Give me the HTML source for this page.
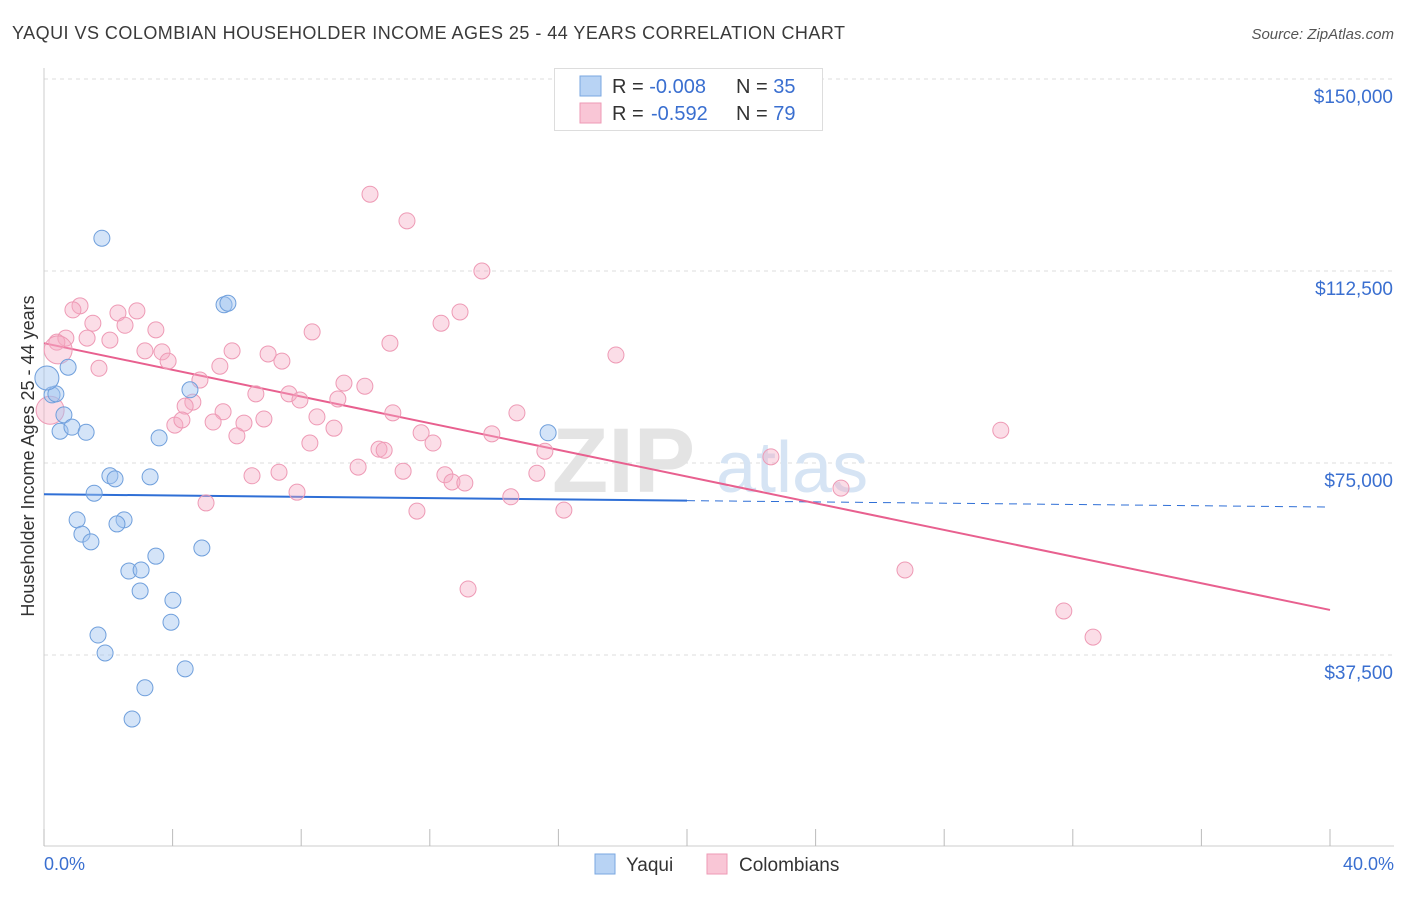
<!DOCTYPE html>
<html><head><meta charset="utf-8"><style>
body{margin:0;background:#fff;font-family:"Liberation Sans",sans-serif;}
svg text{font-family:"Liberation Sans",sans-serif;}
</style></head><body>
<svg id="chart" width="1406" height="892">
<text x="12" y="39" font-size="18" fill="#3a3a3a" textLength="833" lengthAdjust="spacing">YAQUI VS COLOMBIAN HOUSEHOLDER INCOME AGES 25 - 44 YEARS CORRELATION CHART</text>
<text x="1394" y="39" font-size="15" fill="#555" font-style="italic" text-anchor="end">Source: ZipAtlas.com</text>
<g id="grid"></g>
<g id="watermark">
<text x="552" y="492" font-size="92" fill="#e4e4e4" font-family="Liberation Serif" font-weight="bold">ZIP</text>
<text x="716" y="492" font-size="72" fill="#d6e4f4">atlas</text>
</g>
<line x1="44" y1="68" x2="44" y2="846" stroke="#ccc"/>
<line x1="44" y1="846" x2="1394" y2="846" stroke="#ccc"/>
<g id="xticks"></g>
<g id="ylabels"></g>
<text x="44" y="870" font-size="18" fill="#3a6fd0">0.0%</text>
<text x="1394" y="870" font-size="18" fill="#3a6fd0" text-anchor="end">40.0%</text>
<text transform="translate(34,456) rotate(-90)" font-size="18" fill="#333" text-anchor="middle">Householder Income Ages 25 - 44 years</text>
<g id="trend"></g>
<g id="pts"></g>
<g>
<rect x="554.5" y="68.5" width="268" height="62" fill="#fff" stroke="#ddd"/>
<rect x="580" y="76" width="21" height="20" fill="#b8d3f4" stroke="#7aa7e0"/>
<rect x="580" y="103" width="21" height="20" fill="#f9c6d6" stroke="#ee9ab5"/>
<text x="612" y="93" font-size="20" fill="#333">R = <tspan fill="#3a6fd0">-0.008</tspan><tspan x="736">N = </tspan><tspan fill="#3a6fd0">35</tspan></text>
<text x="612" y="120" font-size="20" fill="#333">R = <tspan x="651" fill="#3a6fd0">-0.592</tspan><tspan x="736">N = </tspan><tspan fill="#3a6fd0">79</tspan></text>
</g>
<g>
<rect x="595" y="854" width="20" height="20" fill="#b8d3f4" stroke="#7aa7e0"/>
<text x="626" y="871" font-size="19" fill="#333">Yaqui</text>
<rect x="707" y="854" width="20" height="20" fill="#f9c6d6" stroke="#ee9ab5"/>
<text x="739" y="871" font-size="19" fill="#333">Colombians</text>
</g>
</svg>
<script>
const yTicks=[37500,75000,112500,150000];
const yTickLabels=["$37,500","$75,000","$112,500","$150,000"];
const xTickPcts=[0,4,8,12,16,20,24,28,32,36,40];
const yaquiX=[1.80,5.60,5.72,0.75,0.25,0.37,0.09,0.62,0.50,0.87,1.31,3.58,4.54,15.68,2.05,2.21,3.30,1.56,1.03,2.49,2.27,1.18,1.46,3.48,4.91,2.64,3.02,2.99,4.01,3.95,1.68,1.90,4.39,3.14,2.74];
const yaquiY=[118.9,105.9,106.2,93.7,88.3,88.5,91.6,84.4,81.2,82.0,81.0,79.9,89.3,80.9,72.5,71.9,72.3,69.1,63.9,63.9,63.1,61.1,59.6,56.8,58.4,53.9,54.1,50.0,48.2,43.9,41.4,37.9,34.8,31.1,25.0];
const colX=[10.14,11.29,13.62,1.12,0.90,2.30,2.89,1.52,2.52,3.48,12.94,12.35,8.34,0.68,1.34,2.05,0.40,10.76,3.14,3.67,5.85,6.97,17.79,3.86,7.40,1.71,5.47,4.85,9.33,9.98,6.59,7.62,7.96,9.14,4.63,4.39,5.57,8.49,10.85,14.71,6.84,5.26,4.07,4.29,6.22,9.02,11.73,6.00,13.93,12.10,8.27,29.76,10.42,10.58,15.58,22.61,9.77,11.17,6.47,7.31,12.47,15.33,12.69,13.09,7.87,14.52,24.79,5.04,11.60,16.17,26.78,13.19,31.72,32.63,0.19,0.44];
const colY=[127.5,122.3,112.5,105.7,104.9,104.3,104.7,102.3,101.9,101.0,104.5,102.3,100.6,99.4,99.4,99.0,98.6,98.4,96.9,96.7,96.9,96.3,96.1,94.9,94.9,93.5,93.9,91.2,90.6,90.0,88.5,88.5,87.3,87.5,86.9,86.1,85.0,84.0,84.8,84.8,83.6,83.0,82.4,83.4,82.8,81.8,80.9,80.3,80.7,78.9,78.9,81.4,77.7,77.5,77.3,76.2,74.2,73.4,72.5,73.2,72.7,73.0,71.3,71.1,69.3,68.4,70.1,67.2,65.6,65.8,54.1,50.4,46.1,41.0,85.3,97.1];
const yaquiTrend=[68.9,66.4];
const colTrend=[98.4,46.3];
const NS="http://www.w3.org/2000/svg";
const X=p=>44+p/40*1286;
const Y=v=>847-v/37.5*192;
function mk(t,a,parent){const e=document.createElementNS(NS,t);for(const k in a)e.setAttribute(k,a[k]);document.getElementById(parent).appendChild(e);return e;}
yTicks.forEach((t,i)=>{
 const g=mk('line',{x1:44,x2:1394,y1:Y(t/1000),y2:Y(t/1000),stroke:'#ddd','stroke-dasharray':'4,4'},'grid');
 
 
 const l=mk('text',{x:1393,y:Y(t/1000)+24,'font-size':19,fill:'#3a6fd0','text-anchor':'end'},'ylabels');
 l.textContent=yTickLabels[i];
 
 
});
const tg=mk('line',{x1:44,x2:1394,y1:79,y2:79,stroke:'#ddd','stroke-dasharray':'4,4'},'grid');


xTickPcts.forEach(p=>{
 const t=mk('line',{x1:X(p),x2:X(p),y1:829,y2:846,stroke:'#bbb'},'xticks');
 
 
});
let l1=mk('line',{x1:X(0),y1:Y(yaquiTrend[0]),x2:X(20),y2:Y((yaquiTrend[0]+yaquiTrend[1])/2),stroke:'#2f6fd6','stroke-width':2},'trend');


let l2=mk('line',{x1:X(20),y1:Y((yaquiTrend[0]+yaquiTrend[1])/2),x2:X(40),y2:Y(yaquiTrend[1]),stroke:'#2f6fd6','stroke-width':1,'stroke-dasharray':'8,6'},'trend');


let l3=mk('line',{x1:X(0),y1:Y(colTrend[0]),x2:X(40),y2:Y(colTrend[1]),stroke:'#e8608f','stroke-width':2},'trend');


colX.forEach((x,i)=>{
 const big=i>=colX.length-2;
 const c=mk('circle',{cx:X(x),cy:Y(colY[i]),r:big?14:8,fill:'rgba(246,170,196,0.4)',stroke:'#ee9ab5','stroke-width':1},'pts');
 
 
});
yaquiX.forEach((x,i)=>{
 const big=i==6;
 const c=mk('circle',{cx:X(x),cy:Y(yaquiY[i]),r:big?12:8,fill:'rgba(160,196,240,0.45)',stroke:'#6f9fdc','stroke-width':1},'pts');
 
 
});
</script>
</body></html>
